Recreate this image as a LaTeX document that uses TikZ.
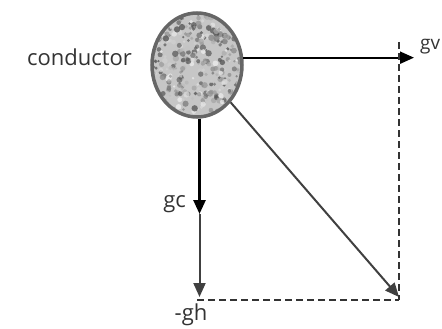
\documentclass[tikz,border=0pt]{standalone}
\usepackage{fontspec}
\setmainfont{Open Sans}
\usetikzlibrary{shapes.geometric,arrows.meta}
\begin{document}
\begin{tikzpicture}[x=1pt,y=-1pt,
  lbl/.style={inner sep=0pt,text=black!80,font=\fontsize{22}{24}\selectfont},
  vec/.style={-{Triangle[length=14pt,width=12pt]},line width=2pt},
  dsh/.style={dash pattern=on 7pt off 4pt,line width=2.6pt,black!80}]
\useasboundingbox (0,0) rectangle (442,329);
% textured fill of the conductor
\begin{scope}
  \clip (197,65) ellipse [x radius=45, y radius=52];
  \fill[gray!45] (150,10) rectangle (245,120);
  \pgfmathsetseed{11}
  \foreach \i in {1,...,420}{
    \pgfmathsetmacro\rx{152+90*rnd}
    \pgfmathsetmacro\ry{12+106*rnd}
    \pgfmathsetmacro\sh{int(5+70*rnd)}
    \pgfmathsetmacro\rr{1.2+2*rnd}
    \fill[black!\sh,opacity=0.7] (\rx,\ry) circle (\rr);
  }
\end{scope}
\node[ellipse,draw=black!60,line width=3.5pt,minimum width=90pt,minimum height=104pt,inner sep=0pt] (c) at (197,65) {};
% named points
\coordinate (gvt) at (414,57);
\coordinate (gct) at (199.5,214);
\coordinate (ght) at (199.5,297);
\coordinate (res) at (399,297);
\coordinate (dtop) at (399,42);
\coordinate (hl) at (197,300);
% labels
\node[lbl,anchor=east] (cond) at (132,57) {conductor};
\node[lbl,anchor=west,font=\fontsize{19}{21}\selectfont] (gv) at (420,47) {gv};
\node[lbl,anchor=east] (gc) at (186,204) {gc};
\node[lbl,anchor=north] (gh) at (191,304) {-gh};
% vectors
\draw[vec,black] (c.9) -- (c.9 -| gvt);
\draw[vec,black,line width=2.6pt] (c.-87 -| gct) -- (gct);
\draw[vec,black!75] (gct) -- (ght);
\draw[vec,black!75] (c.-48) -- (res);
% dashed construction lines
\draw[dsh] (dtop) -- (dtop |- hl);
\draw[dsh] (hl) -- (hl -| dtop);
\end{tikzpicture}
\end{document}
